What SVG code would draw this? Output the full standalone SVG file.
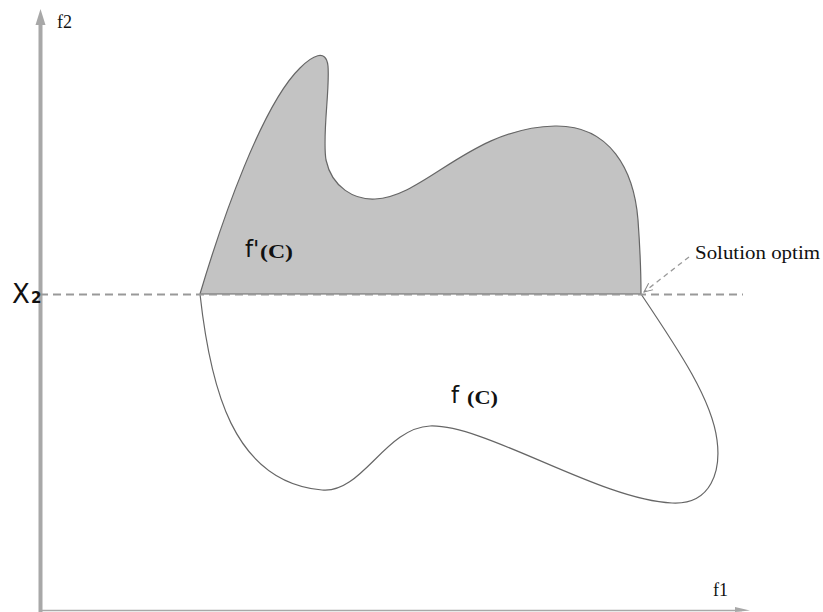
<svg xmlns="http://www.w3.org/2000/svg" width="823" height="612" viewBox="0 0 823 612">
<defs>
<style>
.axis{stroke:#a8a8a8;fill:none}
.dash{stroke:#999;stroke-width:2;stroke-dasharray:8,5;fill:none}
.outline{stroke:#666;stroke-width:1.2}
</style>
<marker id="ah" markerWidth="10" markerHeight="10" refX="9" refY="5" orient="auto" markerUnits="userSpaceOnUse">
<path d="M0,1 L9,5 L0,9" fill="none" stroke="#888" stroke-width="1"/>
</marker>
</defs>
<rect width="823" height="612" fill="#fff"/>
<g id="axes">
<line class="axis" x1="40.5" y1="20" x2="40.5" y2="612" stroke-width="4"/>
<polygon points="40.5,9 35.5,25 45.5,25" fill="#a8a8a8"/>
<line class="axis" x1="40" y1="610.5" x2="742" y2="610.5" stroke-width="1.5"/>
<polygon points="750,610.5 735,607 735,612" fill="#a8a8a8"/>
</g>
<g id="upper-region">
<path class="outline" fill="#c3c3c3" d="M200,294 C222,220 262,105 300,68 C312,56 326,48 328,66 C330,90 322,135 326,160 C332,188 355,200 375,199 C425,197 470,128 555,126 C610,125 634,170 638,220 C640,248 641,272 641,294 Z"/>
</g>
<g id="lower-region">
<path class="outline" fill="none" d="M200,294 C210,385 232,482 322,490 C362,494 385,428 430,426 C485,424 600,500 672,503 C712,505 721,470 717,440 C712,400 680,352 641,294"/>
</g>
<g id="connectors">
<line class="dash" x1="40" y1="294.5" x2="743" y2="294.5"/>
<line x1="689" y1="257" x2="644" y2="292" stroke="#999" stroke-width="1.3" stroke-dasharray="5,4" marker-end="url(#ah)"/>
</g>
<g id="labels" fill="#111">
<text x="57" y="28" font-size="18" font-family="Liberation Serif, Times New Roman, serif">f2</text>
<text x="713" y="596" font-size="18" font-family="Liberation Serif, Times New Roman, serif">f1</text>
<text x="12" y="303" font-size="26" font-family="DejaVu Sans, Liberation Sans, sans-serif">X</text>
<text x="31" y="303" font-size="15" font-weight="bold" font-family="DejaVu Sans, Liberation Sans, sans-serif">2</text>
<text x="695" y="259" font-size="18" textLength="125" lengthAdjust="spacingAndGlyphs" font-family="Liberation Serif, Times New Roman, serif">Solution optim</text>
<text x="245" y="257" font-size="23" font-family="DejaVu Sans, Liberation Sans, sans-serif">f'</text>
<text x="260" y="258" font-size="18" font-weight="bold" textLength="33" lengthAdjust="spacingAndGlyphs" font-family="Liberation Serif, Times New Roman, serif">(C)</text>
<text x="451" y="403" font-size="23" font-family="DejaVu Sans, Liberation Sans, sans-serif">f</text>
<text x="467" y="404" font-size="18" font-weight="bold" textLength="31" lengthAdjust="spacingAndGlyphs" font-family="Liberation Serif, Times New Roman, serif">(C)</text>
</g>
</svg>
